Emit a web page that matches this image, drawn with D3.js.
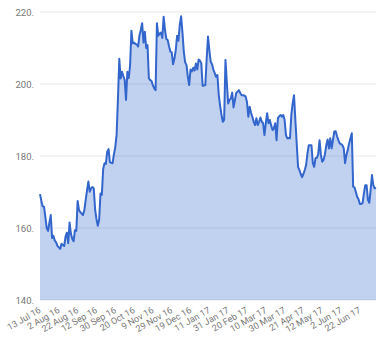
<!DOCTYPE html>
<html>
<head>
<meta charset="utf-8">
<script src="https://cdn.jsdelivr.net/npm/d3@7"></script>
<style>
  html, body { margin: 0; padding: 0; background: #fff; }
  svg { display: block; }
  text { font-family: Roboto, Arial, sans-serif; }
</style>
</head>
<body>
<svg id="chart" width="380" height="360"></svg>
<script>
const values = [
  169.4,167.5,166.0,165.9,163.0,160.0,159.2,161.5,163.6,157.2,
  157.8,156.5,156.0,155.0,154.6,154.2,155.6,155.3,155.0,157.6,
  158.7,155.8,161.5,158.4,157.0,156.3,159.4,159.2,167.5,165.0,
  164.4,164.0,163.6,165.0,167.8,170.5,172.9,170.1,171.0,171.4,
  171.0,165.2,162.5,160.6,162.3,169.6,169.2,176.4,178.0,177.8,
  181.2,181.9,178.3,178.1,178.0,180.5,182.4,186.0,196.0,207.0,
  201.5,203.4,202.2,201.1,195.6,203.4,201.6,205.0,214.8,211.3,
  211.5,211.1,211.0,210.4,213.5,215.0,216.9,211.5,214.5,210.0,
  210.8,201.6,201.1,200.8,199.7,198.8,198.3,216.9,213.4,214.0,
  214.3,212.8,218.7,215.0,212.5,212.2,210.5,209.0,208.8,205.5,
  207.0,209.4,213.4,212.0,216.4,218.8,214.3,209.0,206.0,205.3,
  202.0,199.7,204.0,203.5,204.5,203.7,205.7,204.0,206.8,206.5,
  205.8,199.5,199.6,199.7,207.0,213.2,209.4,206.2,205.5,204.0,
  203.0,202.0,202.5,197.0,194.0,191.5,189.5,190.0,206.7,200.5,
  194.6,195.5,196.0,197.6,193.5,195.5,197.5,197.9,198.3,197.5,
  196.9,196.9,196.8,196.5,195.0,190.9,193.7,192.0,190.9,189.5,
  188.6,190.5,188.6,189.5,190.7,189.5,189.1,185.8,189.1,191.9,
  189.1,190.0,188.5,187.2,187.7,189.1,184.4,190.5,191.0,191.4,
  190.9,191.4,190.0,185.8,184.9,185.0,184.9,191.4,194.6,196.9,
  190.0,183.5,177.0,176.1,175.0,174.1,175.0,176.1,177.5,180.7,
  183.0,183.0,183.0,178.0,177.0,179.4,179.5,180.5,184.4,180.3,
  178.4,178.9,180.5,183.0,184.6,182.1,184.9,182.1,184.5,186.8,
  186.9,185.5,184.4,183.5,183.3,183.0,182.1,178.0,180.3,181.7,
  183.5,184.9,186.3,171.5,171.3,170.0,168.7,168.0,166.7,166.7,
  166.9,169.6,171.9,171.9,167.8,167.0,170.5,174.7,171.9,171.0,
  171.2
];
const tickLabels = ["13 Jul 16","2 Aug 16","22 Aug 16","12 Sep 16","30 Sep 16","20 Oct 16",
  "9 Nov 16","29 Nov 16","19 Dec 16","11 Jan 17","31 Jan 17","20 Feb 17","10 Mar 17",
  "30 Mar 17","21 Apr 17","12 May 17","2 Jun 17","22 Jun 17"];
const tickStep = 14;
const yTicks = [140, 160, 180, 200, 220];

const svg = d3.select("#chart");
const mLeft = 40, mRight = 376, mTop = 12, mBottom = 300;

const x = d3.scaleLinear().domain([0, values.length - 1]).range([mLeft, mRight]);
const y = d3.scaleLinear().domain([140, 220]).range([mBottom, mTop]);

// gridlines
svg.append("g").selectAll("line").data(yTicks).join("line")
  .attr("x1", mLeft).attr("x2", mRight)
  .attr("y1", d => y(d)).attr("y2", d => y(d))
  .attr("stroke", "#e8e8e8").attr("stroke-width", 1);

// area
const area = d3.area().x((d, i) => x(i)).y0(y(140)).y1(d => y(d));
svg.append("path").datum(values).attr("d", area)
  .attr("fill", "#3366cc").attr("fill-opacity", 0.3);

// line
const line = d3.line().x((d, i) => x(i)).y(d => y(d));
svg.append("path").datum(values).attr("d", line)
  .attr("fill", "none").attr("stroke", "#3366cc").attr("stroke-width", 2)
  .attr("stroke-linejoin", "round");

// y axis
const yAxis = d3.axisLeft(y).tickValues(yTicks).tickFormat(d => d + ".").tickSize(0).tickPadding(6);
const yg = svg.append("g").attr("transform", `translate(${mLeft},0)`).call(yAxis);
yg.select(".domain").remove();
yg.selectAll("text").attr("fill", "#777").style("font-size", "9.5px");

// x axis
const xTickVals = tickLabels.map((_, i) => i * tickStep);
const xAxis = d3.axisBottom(x).tickValues(xTickVals).tickFormat((d, i) => tickLabels[i]).tickSize(0).tickPadding(0);
const xg = svg.append("g").attr("transform", `translate(0,${mBottom})`).call(xAxis);
xg.select(".domain").remove();
xg.selectAll("text")
  .attr("fill", "#777").style("font-size", "9px")
  .attr("text-anchor", "end")
  .attr("dy", null).attr("y", null)
  .attr("transform", "translate(1,12) rotate(-30)");
</script>
</body>
</html>
